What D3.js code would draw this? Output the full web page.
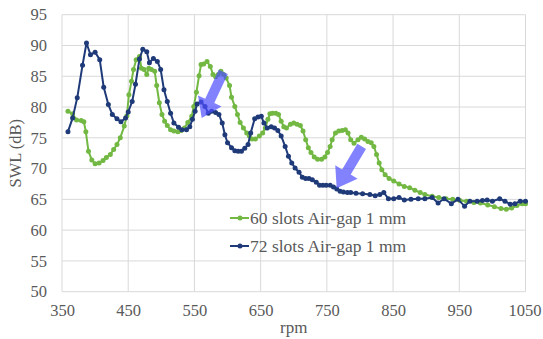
<!DOCTYPE html>
<html>
<head>
<meta charset="utf-8">
<script src="https://cdn.jsdelivr.net/npm/d3@7"></script>
<style>
  body { margin: 0; background: #fff; }
  svg { display: block; }
</style>
</head>
<body>
<div id="chart"></div>
<script>
// values
const xTicks = [350, 450, 550, 650, 750, 850, 950, 1050];
const yTicks = [50, 55, 60, 65, 70, 75, 80, 85, 90, 95];
const seriesNames = ["60 slots Air-gap 1 mm", "72 slots Air-gap 1 mm"];

const rpm60 = [359,366,372,379,383,386,390,395,400,406,412,417,423,428,433,438,444,448,451,455,458,462,467,470,474,478,481,485,490,493,497,501,505,509,514,519,525,530,535,540,546,549,553,557,560,564,569,574,578,582,586,590,594,598,603,606,611,615,619,624,629,633,637,642,648,653,657,661,664,668,673,677,681,685,689,695,700,705,710,714,718,722,726,731,736,742,747,751,755,758,763,768,773,778,782,786,791,797,802,807,812,817,821,825,829,833,838,844,851,859,867,875,883,891,898,909,919,930,940,951,961,972,982,993,1003,1013,1021,1029,1037,1045,1050];
const swl60 = [79.3,78.9,77.9,77.8,77.6,76.0,72.8,71.4,70.8,70.9,71.3,71.8,72.3,73.1,73.9,75.0,76.9,78.6,82.0,84.2,86.1,87.7,88.2,86.3,86.1,85.3,86.3,86.1,85.8,83.5,80.7,78.8,77.7,77.0,76.3,76.1,76.0,76.2,76.6,77.5,78.5,80.1,82.4,85.1,86.9,87.0,87.4,86.6,85.3,84.9,85.3,85.8,85.3,84.7,83.5,81.6,80.1,78.8,77.5,76.6,75.8,75.3,74.8,74.8,75.3,75.8,76.6,78.0,78.9,79.0,79.0,78.8,77.7,76.8,76.6,77.2,77.4,77.2,77.0,76.1,74.7,73.4,72.6,71.9,71.5,71.5,71.9,72.6,73.6,74.7,75.8,76.1,76.2,76.3,75.8,74.7,74.1,74.7,75.1,74.8,74.4,74.2,73.6,72.3,70.9,69.8,69.0,68.4,68.0,67.5,67.1,66.9,66.5,66.1,65.8,65.5,65.3,65.1,65.0,64.8,64.7,64.5,64.4,64.1,63.8,63.5,63.4,63.6,64.0,64.3,64.3];

const rpm72 = [359,366,373,381,387,393,400,407,413,420,426,433,439,446,450,456,461,467,472,478,482,488,494,499,504,509,514,519,526,531,538,543,547,551,554,560,566,571,576,582,587,592,596,600,606,611,616,621,626,631,635,641,646,651,655,660,666,671,676,681,687,692,697,702,708,713,718,723,728,734,739,744,749,755,760,765,770,775,781,786,794,804,815,823,830,836,843,851,859,867,877,888,898,909,918,927,938,948,958,966,977,985,992,1000,1011,1019,1027,1034,1042,1050];
const swl72 = [76.0,78.2,81.5,86.8,90.4,88.5,88.9,87.7,83.2,80.4,78.8,78.1,77.6,78.2,79.2,80.9,83.7,87.8,89.4,89.0,87.2,87.9,87.4,86.1,82.8,80.9,79.0,77.4,76.7,76.3,76.3,76.8,78.0,79.3,80.5,80.8,80.1,79.0,79.3,79.1,78.8,77.4,75.5,74.2,73.4,72.9,72.8,72.8,73.3,73.9,75.8,78.1,78.4,78.5,77.4,76.6,76.8,76.6,76.2,75.3,73.6,72.0,70.9,70.1,69.4,68.6,68.4,68.4,68.2,67.8,67.3,67.3,67.3,67.3,67.0,66.7,66.3,66.2,66.1,66.1,66.0,65.9,65.8,65.6,65.8,66.1,65.1,65.1,65.3,64.9,65.0,65.1,65.1,65.3,64.4,65.1,64.3,65.0,63.9,64.7,64.7,64.8,64.9,64.7,65.1,64.7,64.2,64.3,64.7,64.7];

// annotation arrows: [tailRpm, tailSwl, tipRpm, tipSwl]
const arrows = [[593.6, 85.7, 561, 78.2], [802.6, 73.6, 764.8, 66.8]];

const WIDTH = 543, HEIGHT = 339;
const GREEN = "#72b843", BLUE = "#1f3a78", TEXT = "#595959";
const FONT = "'Liberation Serif', 'Times New Roman', serif";

const svg = d3.select("#chart").append("svg")
  .attr("width", WIDTH)
  .attr("height", HEIGHT)
  .style("font-family", FONT);

const x = d3.scaleLinear().domain([350, 1050]).range([62, 525.5]);
const y = d3.scaleLinear().domain([50, 95]).range([291.7, 14.7]);

// grid
svg.append("g").selectAll("line.h").data(yTicks).enter()
  .append("line")
    .attr("x1", x(350)).attr("x2", x(1050))
    .attr("y1", d => y(d)).attr("y2", d => y(d))
    .attr("stroke", "#d9d9d9").attr("stroke-width", 1);
svg.append("g").selectAll("line.v").data(xTicks).enter()
  .append("line")
    .attr("y1", y(50)).attr("y2", y(95))
    .attr("x1", d => x(d)).attr("x2", d => x(d))
    .attr("stroke", "#d9d9d9").attr("stroke-width", 1);

// axes (labels only, Excel style)
const yAxis = svg.append("g")
  .attr("transform", "translate(" + x(350) + ",0)")
  .call(d3.axisLeft(y).tickValues(yTicks).tickFormat(d3.format("d")).tickSize(0).tickPadding(15));
const xAxis = svg.append("g")
  .attr("transform", "translate(0," + y(50) + ")")
  .call(d3.axisBottom(x).tickValues(xTicks).tickFormat(d3.format("d")).tickSize(0).tickPadding(13));
[xAxis, yAxis].forEach(a => {
  a.select(".domain").remove();
  a.selectAll("text")
    .attr("fill", TEXT)
    .style("font-family", FONT)
    .style("font-size", "16.5px");
});
// keep the last label inside the frame
xAxis.selectAll(".tick").filter(d => d === 1050).select("text").attr("dx", "-1px");

svg.append("text")
  .attr("x", x(700)).attr("y", 333)
  .attr("text-anchor", "middle")
  .attr("fill", TEXT)
  .style("font-size", "17px")
  .text("rpm");

svg.append("text")
  .attr("transform", "translate(21," + ((y(50) + y(95)) / 2) + ") rotate(-90)")
  .attr("text-anchor", "middle")
  .attr("fill", TEXT)
  .style("font-size", "16.5px")
  .text("SWL (dB)");

// series
const line = d3.line().x(d => x(d[0])).y(d => y(d[1]));
const series = [
  { name: seriesNames[0], color: GREEN, pts: d3.zip(rpm60, swl60) },
  { name: seriesNames[1], color: BLUE, pts: d3.zip(rpm72, swl72) }
];

series.forEach(s => {
  const g = svg.append("g");
  g.append("path")
    .attr("d", line(s.pts))
    .attr("fill", "none")
    .attr("stroke", s.color)
    .attr("stroke-width", 2)
    .attr("stroke-linejoin", "round");
  g.selectAll("circle").data(s.pts).enter()
    .append("circle")
      .attr("cx", d => x(d[0]))
      .attr("cy", d => y(d[1]))
      .attr("r", 2.5)
      .attr("fill", s.color);
});

// arrows
arrows.forEach(a => {
  const x0 = x(a[0]), y0 = y(a[1]), x1 = x(a[2]), y1 = y(a[3]);
  const len = Math.hypot(x1 - x0, y1 - y0);
  const ux = (x1 - x0) / len, uy = (y1 - y0) / len;
  const nx = -uy, ny = ux;
  const shaft = 5, head = 13, headLen = 19;
  const bx = x1 - ux * headLen, by = y1 - uy * headLen;
  const pts = [
    [x0 + nx * shaft, y0 + ny * shaft],
    [bx + nx * shaft, by + ny * shaft],
    [bx + nx * head, by + ny * head],
    [x1, y1],
    [bx - nx * head, by - ny * head],
    [bx - nx * shaft, by - ny * shaft],
    [x0 - nx * shaft, y0 - ny * shaft]
  ];
  svg.append("polygon")
    .attr("points", pts.map(p => p.join(",")).join(" "))
    .attr("fill", "#4d4dff")
    .attr("opacity", 0.7);
});

// legend
const legend = svg.append("g");
series.forEach((s, i) => {
  const ly = 218 + i * 28;
  legend.append("line")
    .attr("x1", 230).attr("x2", 249)
    .attr("y1", ly).attr("y2", ly)
    .attr("stroke", s.color).attr("stroke-width", 2);
  legend.append("circle")
    .attr("cx", 240).attr("cy", ly).attr("r", 2.5)
    .attr("fill", s.color);
  legend.append("text")
    .attr("x", 250).attr("y", ly + 6)
    .attr("fill", TEXT)
    .style("font-size", "17.5px")
    .text(s.name);
});
</script>
</body>
</html>
